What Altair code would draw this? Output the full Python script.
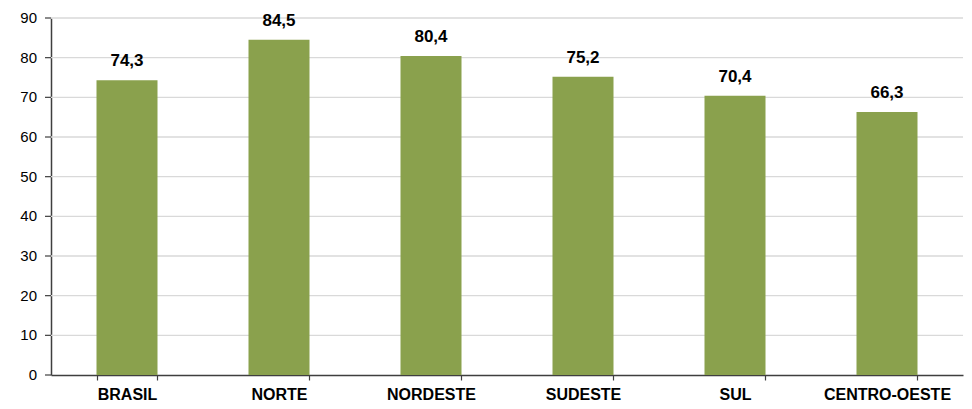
import altair as alt
import pandas as pd

regions = ["BRASIL", "NORTE", "NORDESTE", "SUDESTE", "SUL", "CENTRO-OESTE"]
values = [74.3, 84.5, 80.4, 75.2, 70.4, 66.3]
labels = ["74,3", "84,5", "80,4", "75,2", "70,4", "66,3"]
y_ticks = [0, 10, 20, 30, 40, 50, 60, 70, 80, 90]
y_tick_labels = ["0", "10", "20", "30", "40", "50", "60", "70", "80", "90"]

df = pd.DataFrame({"regiao": regions, "valor": values, "rotulo": labels})
ticks_df = pd.DataFrame({"tick": y_ticks, "txt": y_tick_labels})
grid_df = ticks_df[ticks_df["tick"] > 0]

W, H = 912, 357
AXIS_COLOR = "#3f3f3f"

yscale = alt.Scale(domain=[0, 90], nice=False)
yaxis = alt.Axis(title=None, labels=False, ticks=False, grid=False,
                 domainColor=AXIS_COLOR, domainWidth=1.5)

def Y(field):
    return alt.Y(field, type="quantitative", scale=yscale, axis=yaxis)

x = alt.X("regiao:N", sort=regions, title=None,
          scale=alt.Scale(paddingInner=0.6, paddingOuter=0.3),
          axis=alt.Axis(labelAngle=0, labelFont="Liberation Sans", labelFontSize=16,
                        labelFontWeight="bold", labelColor="#000000", labelPadding=6,
                        tickBand="extent", tickSize=5, tickColor=AXIS_COLOR, tickWidth=1.2,
                        domainColor=AXIS_COLOR, domainWidth=1.5, grid=False))

grid = alt.Chart(grid_df).mark_rule(color="#d9d9d9", strokeWidth=1.3).encode(
    y=Y("tick"), x=alt.value(0), x2=alt.value(W))
yticks = alt.Chart(ticks_df).mark_rule(color=AXIS_COLOR, strokeWidth=1.2).encode(
    y=Y("tick"), x=alt.value(-6), x2=alt.value(0))
ylabels = alt.Chart(ticks_df).mark_text(align="right", baseline="middle",
                                        font="Liberation Sans", fontSize=15,
                                        color="#000000").encode(
    y=Y("tick"), x=alt.value(-14), text="txt:N")

base = alt.Chart(df).encode(x=x, y=Y("valor"))
bars = base.mark_bar(color="#8aa14d", size=61)
text = base.mark_text(baseline="bottom", dy=-10, font="Liberation Sans",
                      fontSize=17, fontWeight="bold", color="#000000").encode(text="rotulo:N")

chart = (grid + bars + text + yticks + ylabels).properties(
    width=W, height=H,
    autosize=alt.AutoSizeParams(type="none"),
    padding={"left": 43, "top": 10, "right": 1, "bottom": 26},
).configure(background="#ffffff").configure_view(stroke=None)

chart.save("out.html", embed_options={"renderer": "svg", "actions": False})
